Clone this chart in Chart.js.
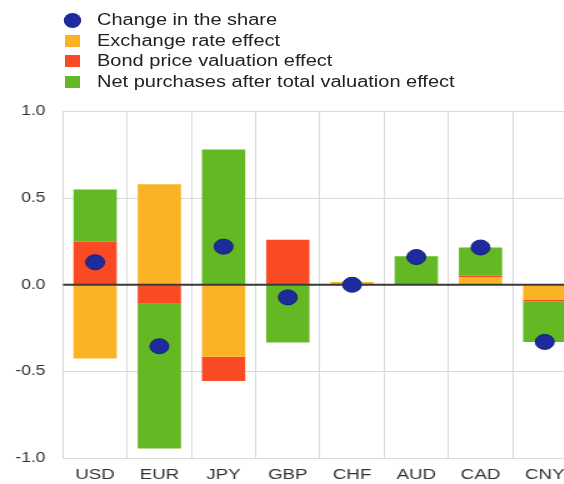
<!DOCTYPE html>
<html><head><meta charset="utf-8">
<script src="https://cdn.jsdelivr.net/npm/chart.js@4"></script>
<style>
html,body{margin:0;padding:0;background:#fff;overflow:hidden;width:564px;height:484px}
#wrap{position:absolute;left:0;top:0;width:470px;height:484px;transform:scaleX(1.25);transform-origin:0 0}
#legend{position:absolute;left:0;top:0;font-family:"Liberation Sans",Arial,sans-serif;font-size:16px;color:#222}
.item{position:absolute;left:0;white-space:nowrap;height:20px;line-height:20px;width:400px}
.txt{position:absolute;left:77.6px;top:0}
canvas{position:absolute;left:0;top:0}
</style>
</head><body>
<div id="wrap">
  <canvas id="c" width="470" height="484"></canvas>
  <div id="legend"></div>
</div>
<script>
const categories = ['USD','EUR','JPY','GBP','CHF','AUD','CAD','CNY'];
const exchangeRateEffect = [-0.425, 0.58, -0.415, 0, 0.016, 0, 0.045, -0.085];
const bondPriceEffect    = [0.25, -0.11, -0.14, 0.26, 0, 0, 0.008, -0.01];
const netPurchases       = [0.30, -0.835, 0.78, -0.333, 0, 0.165, 0.162, -0.235];
const changeInShare      = [0.13, -0.355, 0.22, -0.073, 0.0, 0.16, 0.215, -0.33];
const yTicks = [-1.0, -0.5, 0.0, 0.5, 1.0];
const seriesNames = ['Change in the share','Exchange rate effect','Bond price valuation effect','Net purchases after total valuation effect'];
const seriesColors = ['#1e2b9c','#fbb326','#fa4a24','#63b823'];

// HTML legend
const lg = document.getElementById('legend');
const rowY = [10, 30.5, 51, 71.5];
seriesNames.forEach((n,i)=>{
  const it = document.createElement('div'); it.className='item'; it.style.top=rowY[i]+'px';
  const sw = document.createElement('div');
  if(i===0){ sw.style.cssText='position:absolute;left:51.4px;top:2.5px;width:14px;height:15px;border-radius:50%;background:'+seriesColors[0]; }
  else { sw.style.cssText='position:absolute;left:52px;top:4px;width:11.5px;height:12px;background:'+seriesColors[i]; }
  const tx = document.createElement('div'); tx.className='txt'; tx.textContent=n;
  it.appendChild(sw); it.appendChild(tx); lg.appendChild(it);
});

Chart.defaults.font.family = '"Liberation Sans", Arial, sans-serif';
Chart.defaults.color = '#333';

const zeroLine = {
  id:'zeroLine',
  beforeDatasetDraw(chart, args){
    if(args.index!==0) return;
    const y = chart.scales.y.getPixelForValue(0), a = chart.chartArea, ctx = chart.ctx;
    ctx.save(); ctx.strokeStyle='#383838'; ctx.lineWidth=2;
    ctx.beginPath(); ctx.moveTo(a.left,y); ctx.lineTo(a.right,y); ctx.stroke(); ctx.restore();
  }
};

new Chart(document.getElementById('c'), {
  type:'bar',
  data:{
    labels: categories,
    datasets:[
      {type:'line', label:seriesNames[0], data:changeInShare, showLine:false,
       pointRadius:7.5, pointHoverRadius:7.5, pointBackgroundColor:seriesColors[0],
       pointBorderColor:'#17207c', pointBorderWidth:1, borderColor:seriesColors[0]},
      {label:seriesNames[1], data:exchangeRateEffect, backgroundColor:seriesColors[1], stack:'s'},
      {label:seriesNames[2], data:bondPriceEffect, backgroundColor:seriesColors[2], stack:'s'},
      {label:seriesNames[3], data:netPurchases, backgroundColor:seriesColors[3], stack:'s'}
    ]
  },
  options:{
    responsive:false, animation:false, devicePixelRatio:1,
    layout:{padding:{top:111.5, bottom:0, left:0, right:0}},
    datasets:{bar:{barPercentage:0.674, categoryPercentage:1.0}},
    plugins:{legend:{display:false}, tooltip:{enabled:false}},
    scales:{
      x:{stacked:true, offset:true,
         afterFit(s){ s.height = 26; },
         grid:{offset:true, color:'#d9d9d9', drawTicks:false, lineWidth:1},
         border:{display:false},
         ticks:{font:{size:15}, color:'#333', padding:8}},
      y:{stacked:true, min:-1, max:1,
         afterBuildTicks(s){ s.ticks = yTicks.map(v=>({value:v})); },
         afterFit(s){ s.width = 50.4; },
         grid:{color:(c)=> (c.tick && c.tick.value===0) ? 'rgba(0,0,0,0)' : '#d9d9d9', drawTicks:false, lineWidth:1},
         border:{display:false},
         ticks:{font:{size:14}, color:'#333', padding:14, callback:(v)=>Number(v).toFixed(1)}}
    }
  },
  plugins:[zeroLine]
});
</script>
</body></html>
